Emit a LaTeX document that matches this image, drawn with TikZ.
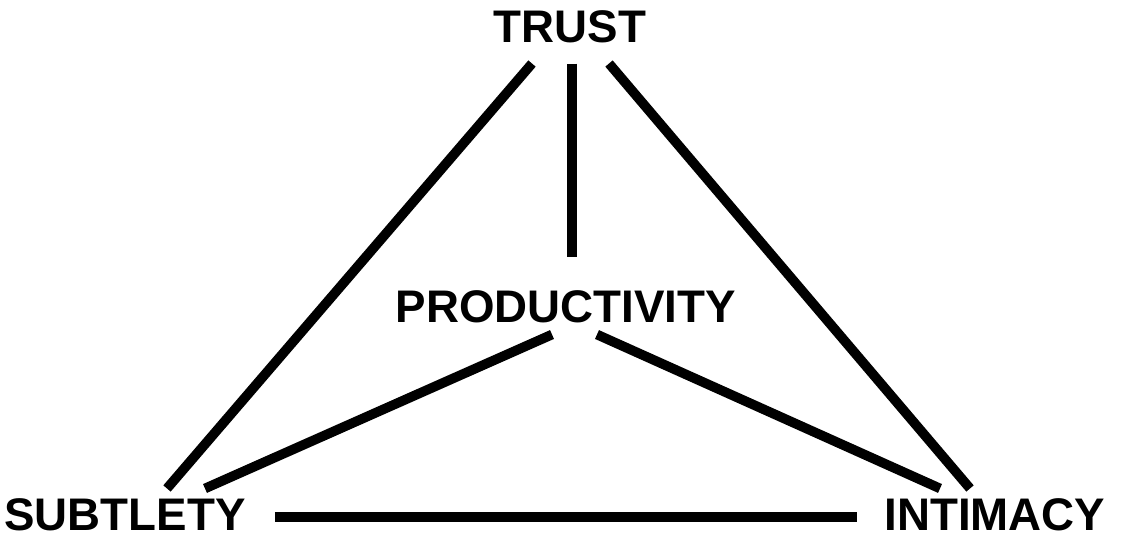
\documentclass[tikz,border=0pt]{standalone}
\usepackage{fontspec}
\setmainfont{Liberation Sans}
\usetikzlibrary{calc}

\begin{document}
\begin{tikzpicture}[x=0.02cm,y=-0.02cm,
  word/.style={inner sep=0,font=\fontsize{26}{30}\selectfont\bfseries},
  link/.style={line width=5.5pt}]

\useasboundingbox (0,0) rectangle (1131,540);

\node [word] (trust) at (570,27) {TRUST};
\node [word] (prod) at (566,307) {PRODUCTIVITY};
\node [word] (subt) at (125,515) {SUBTLETY};
\node [word] (intim) at (995,515) {INTIMACY};

\draw [link] ($(trust.south)+(-38,20)$) -- ($(subt.north)+(42,-10)$);
\draw [link] ($(trust.south)+(2,20)$) -- ($(prod.north)+(6,-33)$);
\draw [link] ($(trust.south)+(39,20)$) -- ($(intim.north)+(-25,-10)$);

\draw [link] ($(prod.south)+(-14,11)$) -- ($(subt.north)+(80,-10)$);
\draw [link] ($(prod.south)+(31,11)$) -- ($(intim.north)+(-55,-10)$);

\draw [link] ($(subt.east)+(29,2)$) -- ($(intim.west)+(-27,2)$);

\end{tikzpicture}
\end{document}
